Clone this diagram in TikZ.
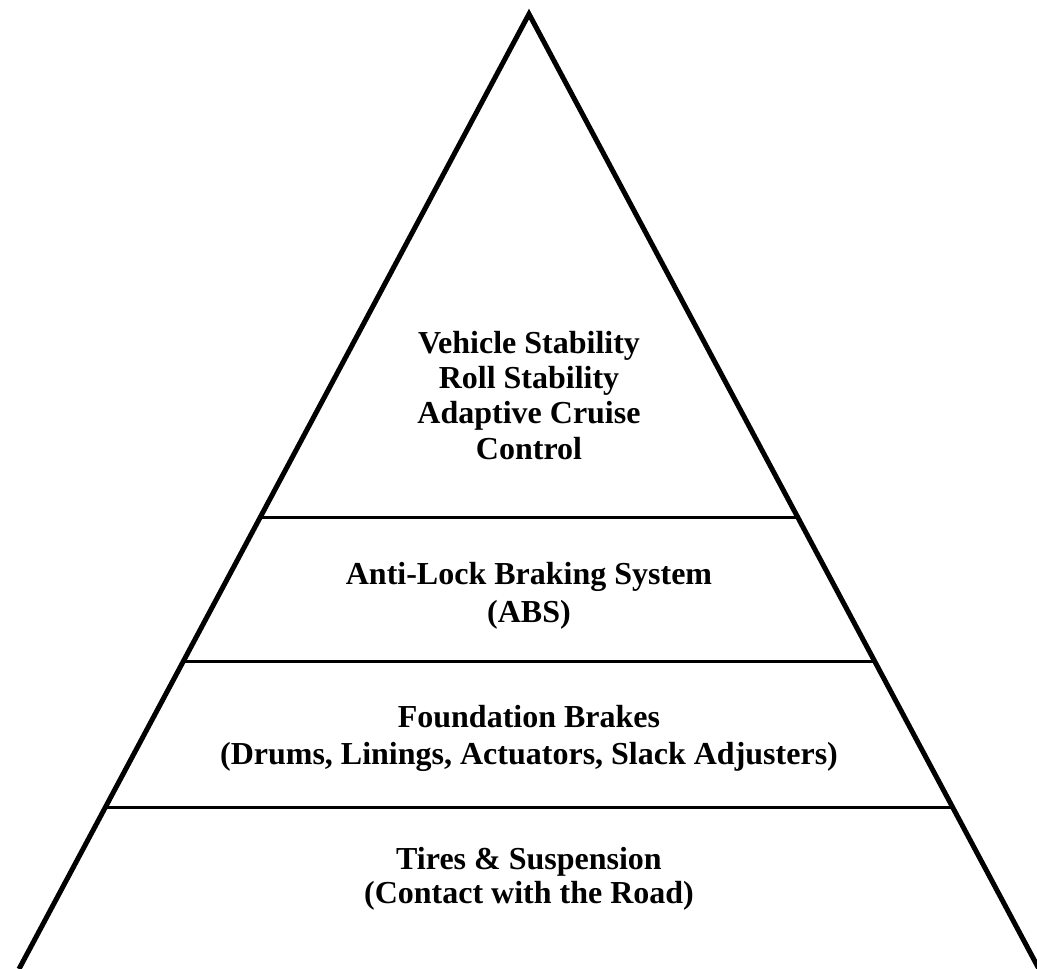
\documentclass[tikz,border=0pt]{standalone}
\usepackage{fontspec}
\setmainfont{Liberation Serif}
\usetikzlibrary{calc}
\begin{document}
\begin{tikzpicture}[x=1pt,y=-1pt,
  edge/.style={line width=5pt,line join=miter,black},
  divider/.style={line width=3pt,black},
  lbl/.style={anchor=base,inner sep=0pt,font=\fontsize{32}{37}\selectfont\bfseries}]
\useasboundingbox (0,0) rectangle (1037,969);
\coordinate (apex) at (529,14);
\coordinate (bl) at (19,969);
\coordinate (br) at (1039,969);
\draw[edge] (bl) -- (apex) -- (br);
\coordinate (l1) at ($(apex)!0.5277!(bl)$);
\coordinate (r1) at ($(apex)!0.5277!(br)$);
\coordinate (l2) at ($(apex)!0.6785!(bl)$);
\coordinate (r2) at ($(apex)!0.6785!(br)$);
\coordinate (l3) at ($(apex)!0.8314!(bl)$);
\coordinate (r3) at ($(apex)!0.8314!(br)$);
\draw[divider] (l1) -- (r1);
\draw[divider] (l2) -- (r2);
\draw[divider] (l3) -- (r3);
\node[lbl] (t1) at (529,353) {Vehicle Stability};
\node[lbl] (t2) at (529,388) {Roll Stability};
\node[lbl] (t3) at (529,423) {Adaptive Cruise};
\node[lbl] (t4) at (529,459) {Control};
\node[lbl] (a1) at (529,584) {Anti-Lock Braking System};
\node[lbl] (a2) at (529,622) {(ABS)};
\node[lbl] (f1) at (529,727) {Foundation Brakes};
\node[lbl] (f2) at (529,764) {(Drums, Linings, Actuators, Slack Adjusters)};
\node[lbl] (s1) at (529,869) {Tires \& Suspension};
\node[lbl] (s2) at (529,903) {(Contact with the Road)};
\end{tikzpicture}
\end{document}
